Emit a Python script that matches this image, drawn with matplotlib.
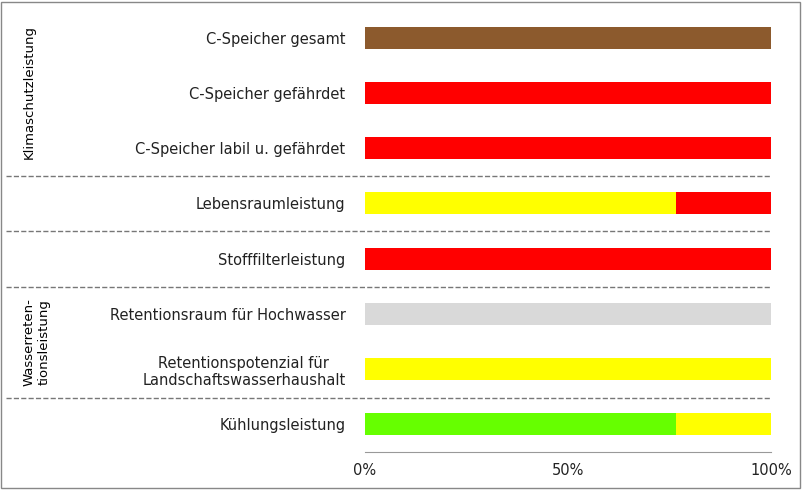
import matplotlib.pyplot as plt
import matplotlib.patches as mpatches
from matplotlib.lines import Line2D

categories = ['C-Speicher gesamt', 'C-Speicher gefährdet', 'C-Speicher labil u. gefährdet',
              'Lebensraumleistung', 'Stofffilterleistung', 'Retentionsraum für Hochwasser',
              'Retentionspotenzial für\nLandschaftswasserhaushalt', 'Kühlungsleistung']
# each row: list of (share in %, colour)
segments = [
    [(100, '#8C5A2D')],
    [(100, '#FF0000')],
    [(100, '#FF0000')],
    [(76.5, '#FFFF00'), (23.5, '#FF0000')],
    [(100, '#FF0000')],
    [(100, '#D9D9D9')],
    [(100, '#FFFF00')],
    [(76.5, '#66FF00'), (23.5, '#FFFF00')],
]
xticks = [0, 50, 100]
xticklabels = ['0%', '50%', '100%']

fig = plt.figure(figsize=(8.04, 4.90), dpi=100)
ax = fig.add_axes([365 / 804, 1 - 452 / 490, 406 / 804, 442 / 490])

for i, row in enumerate(segments):
    left = 0
    for val, col in row:
        ax.barh(i, val, left=left, height=0.4, color=col)
        left += val

ax.set_ylim(len(categories) - 0.5, -0.5)
ax.set_xlim(0, 100)
ax.set_yticks(range(len(categories)))
ax.set_yticklabels(categories, fontsize=10.5, color='#222222', multialignment='center')
ax.set_xticks(xticks)
ax.set_xticklabels(xticklabels, fontsize=10.5, color='#222222')
ax.tick_params(axis='y', length=0, pad=14)
ax.tick_params(axis='x', length=0, pad=8)
for s in ['top', 'right', 'left']:
    ax.spines[s].set_visible(False)
ax.spines['bottom'].set_color('#999999')

# dashed separators across the whole width
for ypx in [176, 231, 287, 398]:
    yf = 1 - ypx / 490
    fig.add_artist(Line2D([6 / 804, 771 / 804], [yf, yf], color='#777777',
                          linestyle='--', linewidth=1))

fig.text(29 / 804, 1 - 92 / 490, 'Klimaschutzleistung', rotation=90,
         ha='center', va='center', fontsize=9.5)
fig.text(37 / 804, 1 - 342 / 490, 'Wasserreten-\ntionsleistung', rotation=90,
         ha='center', va='center', fontsize=9.5)

fig.add_artist(mpatches.Rectangle((1 / 804, 2 / 490), 799 / 804, 486 / 490,
                                  fill=False, edgecolor='#888888', linewidth=1))

fig.savefig('out.png', dpi=100)
